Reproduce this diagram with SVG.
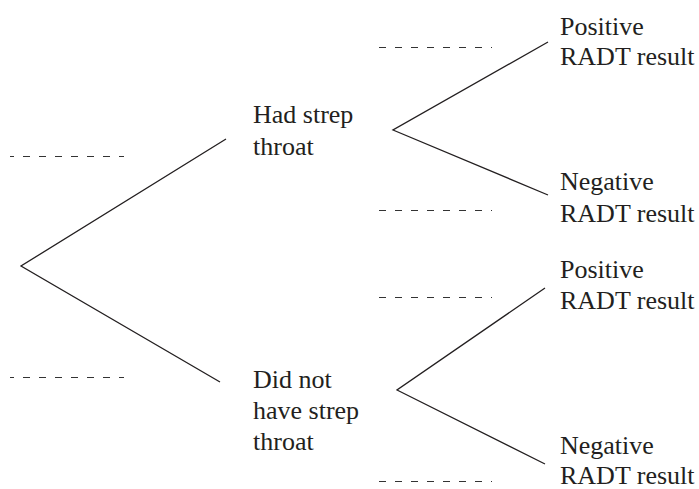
<svg xmlns="http://www.w3.org/2000/svg" width="699" height="489" viewBox="0 0 699 489">
<style>
.br{stroke:#231f20;stroke-width:1.3;fill:none}
.dash{stroke:#333;stroke-width:1;stroke-dasharray:7 9;fill:none}
text{font-family:"Liberation Serif","Times New Roman",serif;font-size:26px;fill:#231f20}
</style>
<rect width="699" height="489" fill="#fff"/>
<g id="connectors">
<polyline class="br" points="226,139 21,266 220,382"/>
<polyline class="br" points="548,42 393,130 548,195"/>
<polyline class="br" points="545,288 397,390 545,464"/>
<line class="dash" x1="10" y1="156.5" x2="124" y2="156.5" stroke-dashoffset="3"/>
<line class="dash" x1="10" y1="377.5" x2="124" y2="377.5" stroke-dashoffset="3"/>
<line class="dash" x1="379" y1="47.5" x2="492" y2="47.5"/>
<line class="dash" x1="379" y1="210.5" x2="492" y2="210.5"/>
<line class="dash" x1="379" y1="297.5" x2="492" y2="297.5"/>
<line class="dash" x1="379" y1="481.5" x2="492" y2="481.5"/>
</g>
<g id="had">
<text x="253" y="123">Had strep</text>
<text x="253" y="155">throat</text>
</g>
<g id="didnot">
<text x="253" y="388">Did not</text>
<text x="253" y="419">have strep</text>
<text x="253" y="450">throat</text>
</g>
<g id="pos1">
<text x="560" y="35">Positive</text>
<text x="560" y="65">RADT result</text>
</g>
<g id="neg1">
<text x="560" y="190">Negative</text>
<text x="560" y="222">RADT result</text>
</g>
<g id="pos2">
<text x="560" y="278">Positive</text>
<text x="560" y="309">RADT result</text>
</g>
<g id="neg2">
<text x="560" y="454">Negative</text>
<text x="560" y="484">RADT result</text>
</g>
</svg>
